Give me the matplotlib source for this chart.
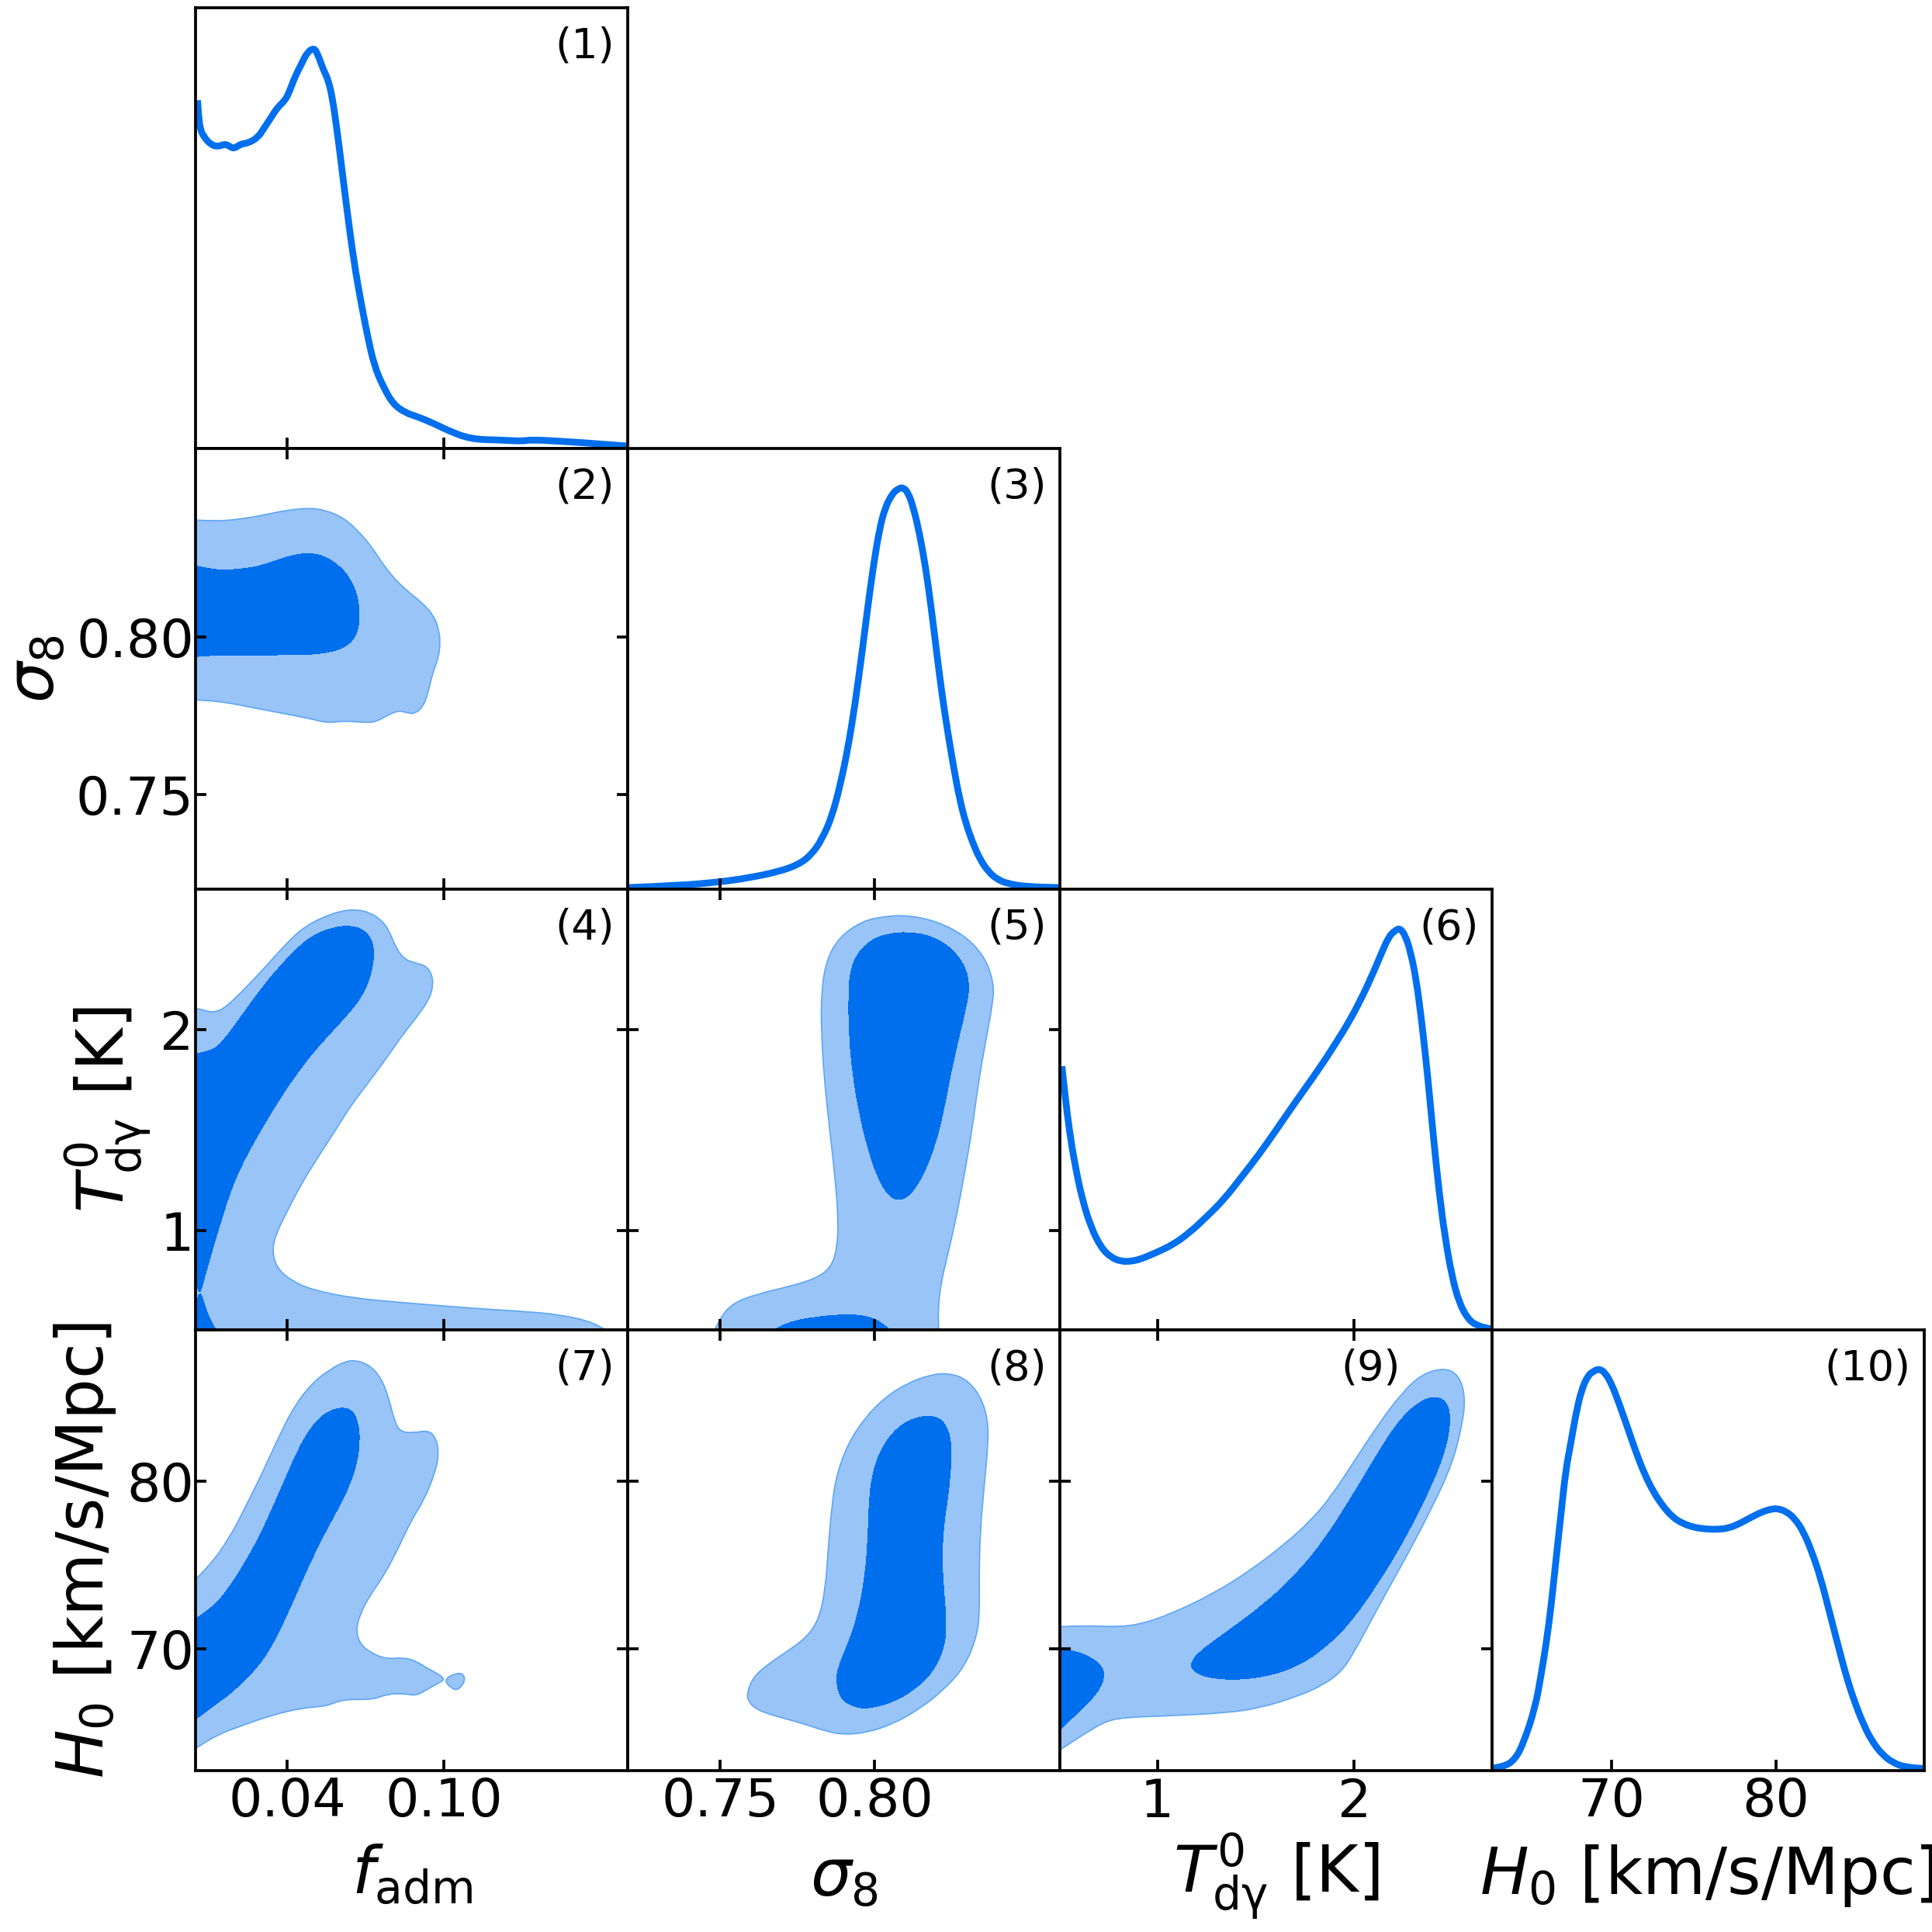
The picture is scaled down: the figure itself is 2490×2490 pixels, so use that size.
import matplotlib
matplotlib.use("Agg")
import matplotlib.pyplot as plt
from matplotlib.path import Path
from matplotlib.patches import PathPatch

# axis limits and ticks
fadm_lim = [0.00488, 0.1705]
sig_lim = [0.72, 0.86]
tdg_lim = [0.505, 2.70]
h0_lim = [62.7, 89.05]

fadm_ticks = [0.04, 0.10]
sig_ticks = [0.75, 0.80]
tdg_ticks = [1, 2]
h0_ticks = [70, 80]

fadm_ticklabels = ["0.04", "0.10"]
sig_ticklabels = ["0.75", "0.80"]
tdg_ticklabels = ["1", "2"]
h0_ticklabels = ["70", "80"]

fadm_label = r"$f_{\rm adm}$"
sig_label = r"$\sigma_8$"
tdg_label = r"$T_{\rm d\gamma}^0$ [K]"
h0_label = r"$H_0$ [km/s/Mpc]"

# 1D posteriors
p1_x = [.00565, .00609, .00675, .00807, .0106, .01336, .01611, .01776, .01963, .02216, .02492, .02877, .03097,
        .03372, .03626, .03923, .04088, .04286, .0455, .04771, .05024, .05167, .05387, .05574, .0574, .05905,
        .05993, .06268, .06565, .06863, .07083, .07336, .07666, .08074, .08602, .08932, .09703, .10088, .11024,
        .12235, .13006, .13336, .14437, .15208, .17046]
p1_y = [.869, .825, .796, .778, .759, .753, .760, .755, .748, .760, .762, .776, .798,
        .825, .851, .869, .891, .926, .960, .989, 1.0, .985, .945, .920, .873, .796,
        .753, .607, .462, .353, .280, .207, .156, .109, .087, .081, .060, .047, .023,
        .021, .018, .022, .018, .015, .006]

p3_x = [.7201, .7364, .75, .7597, .769, .7755, .7796, .7829, .7862, .7889, .7913, .7936, .7959, .7978, .7996,
        .8015, .8033, .8057, .8075, .8091, .8108, .8126, .8145, .8164, .8182, .8201, .8219, .8238, .8257,
        .8275, .8294, .8317, .834, .8368, .8396, .8433, .8498, .8601]
p3_y = [.004, .009, .018, .029, .044, .062, .087, .124, .182, .262, .350, .459, .590, .706, .808,
        .896, .951, .987, .999, 1.003, .991, .951, .889, .808, .710, .590, .481, .386, .299,
        .226, .168, .117, .076, .044, .025, .013, .006, .004]

p6_x = [.5153, .5313, .5531, .5822, .6186, .6623, .7132, .7642, .8151, .8661, .917, .9898, 1.0771, 1.1645,
        1.2518, 1.3392, 1.4265, 1.5138, 1.6012, 1.703, 1.8195, 1.9068, 1.9796, 2.0451, 2.096, 2.1397, 2.1761,
        2.2052, 2.2314, 2.2591, 2.2853, 2.3144, 2.3435, 2.3726, 2.4017, 2.4309, 2.46, 2.4964, 2.5328, 2.5764,
        2.62, 2.6958]
p6_y = [.658, .585, .497, .410, .326, .257, .206, .181, .171, .171, .177, .192, .212, .243,
        .283, .326, .381, .436, .497, .570, .650, .716, .774, .836, .891, .942, .982,
        .996, 1.003, .985, .945, .876, .767, .636, .483, .345, .235, .133, .068, .028,
        .011, .002]

p10_x = [62.64, 63.41, 64.11, 64.64, 65.34, 65.69, 66.01, 66.31, 66.61, 66.92, 67.19, 67.49, 67.80, 68.15, 68.54,
         68.89, 69.24, 69.60, 70.00, 70.44, 70.97, 71.49, 72.02, 72.55, 73.08, 73.69, 74.31, 75.01, 75.71, 76.41,
         77.12, 77.82, 78.52, 79.23, 79.75, 80.11, 80.63, 81.16, 81.69, 82.21, 82.74, 83.27, 83.80, 84.32, 84.85,
         85.38, 85.90, 86.52, 87.14, 87.84, 89.07]
p10_y = [.006, .009, .028, .071, .159, .239, .319, .414, .531, .647, .749, .815, .888, .950, .986,
         .997, 1.003, .993, .964, .917, .855, .793, .738, .695, .662, .633, .617, .607, .603, .602,
         .605, .617, .633, .647, .653, .654, .647, .629, .596, .545, .480, .396, .312, .232, .166,
         .112, .071, .039, .020, .009, .005]

# panel 2: sigma8 vs f_adm
p2_out_x = [.00488, .01226, .02106, .02987, .03868, .04859, .05519, .06125, .0662, .07171, .07611, .08052, .08602,
            .09153, .09593, .09813, .09868, .09791, .09571, .09395, .09208, .08877, .08547, .08272, .07831, .07446,
            .07061, .0618, .05574, .05079, .03978, .02877, .01556, .00565, .00488]
p2_out_y = [.83727, .8369, .83745, .83866, .84024, .84117, .84024, .8381, .83467, .82955, .82398, .81914, .81468,
            .81115, .80725, .8026, .79796, .79331, .78866, .78216, .77797, .77565, .77612, .77677, .77519, .77333,
            .77286, .77351, .77277, .77379, .77565, .77732, .77955, .78011, .78011]
p2_in_x = [.00488, .01005, .01666, .02327, .02987, .03648, .04308, .04859, .05409, .0596, .064, .06675, .06774,
           .0673, .0651, .0607, .05409, .04749, .03868, .02877, .01556, .01005, .00488]
p2_in_y = [.82277, .82165, .82138, .82175, .82268, .82463, .8263, .82677, .82584, .82305, .81887, .81375, .80818,
           .8026, .79888, .79628, .79498, .79452, .79452, .79424, .79424, .79424, .79387]

# panel 4: Tdg vs f_adm
p4_out_x = [.00488, .00785, .01115, .015, .01996, .02767, .03427, .04198, .04749, .05409, .0607, .0662, .07171,
            .07666, .07941, .08217, .08547, .08932, .09318, .09538, .09593, .09483, .09042, .08492, .07831, .07171,
            .064, .0585, .05189, .04528, .03978, .03538, .03427, .03648, .04198, .04969, .0651, .08382, .11134,
            .13336, .14437, .15538, .16254]
p4_out_y = [2.1064, 2.0991, 2.086, 2.0991, 2.1545, 2.2566, 2.3513, 2.4606, 2.519, 2.5627, 2.5918, 2.5991, 2.5845,
            2.5408, 2.4825, 2.395, 2.3469, 2.3324, 2.3178, 2.2784, 2.2274, 2.1618, 2.0743, 1.9869, 1.863, 1.7464,
            1.6152, 1.4985, 1.3673, 1.2289, 1.0904, .9738, .8863, .8061, .7478, .7041, .6633, .6414, .6122,
            .5948, .5802, .551, .503]
p4_in_x = [.00488, .01115, .01556, .02327, .03097, .03868, .04528, .05079, .05739, .064, .0695, .07281, .07336,
           .07171, .0684, .064, .05629, .04969, .04418, .03868, .03207, .02657, .02161, .01776, .01391, .0106,
           .0084, .0064, .0052, .00488]
p4_in_y = [1.8805, 1.8921, 1.9431, 2.0816, 2.2201, 2.3367, 2.4242, 2.4752, 2.5087, 2.519, 2.4971, 2.4388, 2.3586,
           2.2566, 2.1618, 2.0889, 1.9796, 1.8848, 1.7901, 1.688, 1.5496, 1.4257, 1.3017, 1.1778, 1.0175, .8717,
           .7697, .675, .745, .76]
p4_low_x = [.00488, .0064, .0084, .0106, .0128]
p4_low_y = [.6239, .715, .6239, .551, .503]

# panel 5: Tdg vs sigma8
p5_out_x = [.74814, .74991, .75409, .76152, .77361, .7810, .78569, .78773, .78829, .78708, .78522, .78364, .78271,
            .78271, .78429, .78848, .79591, .80335, .81078, .82007, .82937, .83587, .83866, .8382, .83587, .83355,
            .83169, .8289, .82658, .82379, .82147, .82054, .82072]
p5_out_y = [.503, .5656, .6385, .6822, .726, .7624, .8134, .9009, 1.0466, 1.2799, 1.5277, 1.7609, 1.9942,
            2.1837, 2.344, 2.4606, 2.5408, 2.5656, 2.57, 2.5408, 2.4679, 2.3586, 2.2274, 2.1254, 1.9359, 1.7318,
            1.5131, 1.2653, 1.0758, .8863, .7405, .6093, .503]
p5_in_x = [.80753, .80381, .80056, .79777, .79498, .79294, .79173, .79154, .79219, .79452, .7987, .80428, .81078,
           .81822, .82472, .82937, .83067, .82983, .82751, .82472, .8224, .81961, .81589, .81171]
p5_in_y = [1.1458, 1.1851, 1.2799, 1.4111, 1.586, 1.7755, 1.965, 2.1837, 2.3003, 2.3805, 2.4461, 2.4781, 2.4869,
           2.4679, 2.4096, 2.3149, 2.2201, 2.1254, 1.9796, 1.7901, 1.6006, 1.4257, 1.2799, 1.1778]
p5_low_x = [.7671, .77175, .7810, .79126, .79777, .80195, .80502]
p5_low_y = [.503, .5437, .57, .5831, .5729, .5437, .503]

# panel 7: H0 vs f_adm
p7_out_x = [.00488, .01005, .01776, .02437, .03097, .03758, .04308, .04969, .05629, .0618, .0662, .07171, .07611,
            .07886, .08107, .08327, .08822, .09428, .09703, .09813, .09703, .09263, .08767, .08272, .07721, .07171,
            .06785, .06642, .06785, .07171, .07776, .08492, .08932, .09373, .09813, .1005, .09703, .09318, .08932,
            .08492, .07831, .07281, .06125, .05519, .04639, .03427, .02327, .01336, .00488]
p7_out_y = [74.129, 74.913, 76.568, 78.571, 80.662, 82.927, 84.582, 85.889, 86.672, 87.143, 87.247, 86.934, 86.15,
            85.017, 83.624, 82.962, 82.892, 83.049, 82.578, 81.707, 80.662, 78.92, 77.7, 76.045, 74.39, 73.171,
            72.038, 71.08, 70.296, 69.774, 69.373, 69.46, 69.251, 68.815, 68.467, 68.14, 67.857, 67.509, 67.178,
            67.3, 67.282, 66.934, 66.969, 66.551, 66.463, 66.028, 65.418, 64.861, 64.024]
p7_blob_x = [.1, .1045, .1075, .1082, .1055, .1028]
p7_blob_y = [68.14, 68.52, 68.5, 68.05, 67.5, 67.62]
p7_in_x = [.00488, .01115, .01776, .02437, .02987, .03538, .03978, .04418, .04859, .05409, .0607, .0651, .0673,
           .06785, .06675, .064, .0596, .05409, .04859, .04418, .03868, .03427, .02877, .01996, .01226, .00488]
p7_in_y = [71.777, 72.387, 73.606, 75.261, 76.829, 78.746, 80.314, 81.882, 83.101, 84.059, 84.443, 84.233, 83.449,
           82.404, 81.098, 79.791, 78.397, 76.829, 75.087, 73.519, 71.603, 70.209, 68.902, 67.509, 66.638, 65.767]

# panel 8: H0 vs sigma8
p8_out_x = [.75855, .76059, .76617, .77268, .77825, .78197, .78401, .78494, .78615, .78755, .79126, .79684, .80335,
            .81078, .81822, .82379, .82937, .83401, .83662, .8368, .83541, .8342, .83383, .83401, .83309, .82937,
            .82286, .8145, .80613, .79777, .79, .78383, .77546, .7671, .76152, .7592]
p8_out_y = [67.282, 68.293, 69.164, 69.948, 70.732, 71.777, 73.519, 75.958, 78.571, 80.314, 82.23, 83.798, 85.017,
            85.889, 86.376, 86.463, 86.15, 85.192, 83.798, 82.23, 79.617, 77.003, 74.39, 72.125, 70.732, 68.99,
            67.596, 66.376, 65.505, 64.983, 64.843, 65.07, 65.592, 65.993, 66.376, 66.812]
p8_in_x = [.78755, .78801, .79126, .79452, .79684, .79777, .79823, .79916, .80149, .80613, .81171, .81729, .82193,
           .82454, .82491, .82379, .8224, .82175, .8224, .82333, .8224, .81868, .81264, .80613, .7987, .79405, .78941]
p8_in_y = [67.857, 68.815, 70.209, 71.951, 74.216, 76.307, 78.92, 80.314, 81.707, 83.014, 83.711, 83.937, 83.711,
           82.753, 81.359, 79.094, 77.526, 75.436, 73.345, 71.429, 69.948, 68.554, 67.509, 66.812, 66.429, 66.463,
           66.899]

# panel 9: H0 vs Tdg
p9_out_x = [.5051, .6259, .8006, .917, 1.0626, 1.2809, 1.4702, 1.6448, 1.7758, 1.8777, 2.0087, 2.1252, 2.2416,
            2.3435, 2.46, 2.5328, 2.5648, 2.5473, 2.4964, 2.4017, 2.2707, 2.1543, 2.067, 1.9942, 1.936, 1.8486,
            1.7176, 1.5284, 1.3537, 1.0626, .8442, .7424, .6405, .5051]
p9_out_y = [71.307, 71.376, 71.289, 71.463, 72.038, 73.258, 74.652, 76.22, 77.613, 79.007, 81.359, 83.449, 85.279,
            86.411, 86.794, 86.324, 85.017, 83.275, 81.01, 78.571, 75.61, 73.171, 71.254, 69.686, 68.641, 67.857,
            67.16, 66.463, 66.15, 65.976, 65.889, 65.679, 64.983, 63.937]
p9_in_x = [1.1645, 1.2082, 1.3537, 1.5429, 1.7031, 1.8486, 1.9942, 2.1252, 2.2271, 2.329, 2.4163, 2.4745, 2.4891,
           2.4672, 2.4017, 2.2707, 2.1106, 1.9651, 1.8486, 1.7322, 1.5866, 1.4119, 1.2664, 1.1936]
p9_in_y = [69.024, 69.774, 70.993, 72.648, 74.39, 76.481, 79.181, 81.794, 83.624, 84.756, 85.105, 84.669, 83.624,
           82.056, 79.965, 76.829, 73.693, 71.341, 70.035, 69.077, 68.415, 68.118, 68.24, 68.554]
p9_left_x = [.5051, .5822, .6696, .7205, .7307, .7132, .655, .5677, .5051]
p9_left_y = [70.0, 69.861, 69.425, 68.902, 68.38, 67.683, 66.812, 65.854, 65.157]

panel_names = ["(1)", "(2)", "(3)", "(4)", "(5)", "(6)", "(7)", "(8)", "(9)", "(10)"]

DARK = "#006FED"
LIGHT = "#99C4F8"
EDGE = "#5EA6F4"


def open_chain(x, y):
    # quadratic segments through midpoints, then straight to the last point
    pts = list(zip(x, y))
    verts, codes = [pts[0]], [Path.MOVETO]
    chain = pts[1:-1]
    for i, p in enumerate(chain):
        q = chain[i + 1] if i + 1 < len(chain) else pts[-1]
        verts += [p, ((p[0] + q[0]) / 2, (p[1] + q[1]) / 2)]
        codes += [Path.CURVE3, Path.CURVE3]
    verts.append(pts[-1])
    codes.append(Path.LINETO)
    return verts, codes


def curve(ax, x, y):
    verts, codes = open_chain(x, y)
    ax.add_patch(PathPatch(Path(verts, codes), fill=False, edgecolor=DARK, lw=2.1, capstyle="butt"))


def contour(ax, x, y, color, edge=None, closed=True):
    pts = list(zip(x, y))
    if closed:
        start = ((pts[-1][0] + pts[0][0]) / 2, (pts[-1][1] + pts[0][1]) / 2)
        verts, codes = [start], [Path.MOVETO]
        for i, p in enumerate(pts):
            q = pts[(i + 1) % len(pts)]
            verts += [p, ((p[0] + q[0]) / 2, (p[1] + q[1]) / 2)]
            codes += [Path.CURVE3, Path.CURVE3]
        verts.append(start)
        codes.append(Path.CLOSEPOLY)
    else:
        # open outlines end on the axes, close them through the lower left corner
        verts, codes = open_chain(x, y)
        verts += [(ax.get_xlim()[0], ax.get_ylim()[0]), pts[0]]
        codes += [Path.LINETO, Path.CLOSEPOLY]
    patch = PathPatch(Path(verts, codes), facecolor=color, edgecolor=edge if edge else "none",
                      lw=0.4 if edge else 0, antialiased=edge is not None)
    ax.add_patch(patch)


plt.rcParams["font.size"] = 16.4
plt.rcParams["axes.linewidth"] = 0.9

fig = plt.figure(figsize=(8.3, 8.3), dpi=300)
gs = fig.add_gridspec(4, 4, left=252 / 2490, right=2480 / 2490, top=1 - 10 / 2490, bottom=1 - 2282 / 2490,
                      wspace=0, hspace=0)

lims = [fadm_lim, sig_lim, tdg_lim, h0_lim]
ticks = [fadm_ticks, sig_ticks, tdg_ticks, h0_ticks]
ticklabels = [fadm_ticklabels, sig_ticklabels, tdg_ticklabels, h0_ticklabels]
labels = [fadm_label, sig_label, tdg_label, h0_label]
xlabel_pads = [4.7, 6, 1, 4.7]
ylabel_pads = [3, 2.5, 2.3, 2.7]

axes = {}
n = 0
for r in range(4):
    for c in range(r + 1):
        ax = fig.add_subplot(gs[r, c])
        axes[(r, c)] = ax
        ax.set_xlim(lims[c])
        ax.set_xticks(ticks[c])
        ax.set_xticklabels(ticklabels[c] if r == 3 else [])
        if r == c:
            ax.set_ylim(0, 1.1)
            ax.set_yticks([])
            ax.tick_params(axis="x", direction="in", length=3.4, width=0.9, top=False, bottom=True, pad=1.8)
        else:
            ax.set_ylim(lims[r])
            ax.set_yticks(ticks[r])
            ax.set_yticklabels(ticklabels[r] if c == 0 else [])
            ax.tick_params(axis="x", direction="in", length=3.4, width=0.9, top=True, bottom=True, pad=1.8)
            ax.tick_params(axis="y", direction="in", length=3.4, width=0.9, left=True, right=True, pad=0.5)
        if r == 3:
            ax.set_xlabel(labels[c], fontsize=20, labelpad=xlabel_pads[c])
        if c == 0 and r > 0:
            ax.set_ylabel(labels[r], fontsize=20, labelpad=ylabel_pads[r])
        tx = 0.788 if n == 8 else 0.969
        ax.text(tx, 0.913, panel_names[n], transform=ax.transAxes, ha="right", va="center", fontsize=13)
        n += 1

curve(axes[(0, 0)], p1_x, p1_y)
curve(axes[(1, 1)], p3_x, p3_y)
curve(axes[(2, 2)], p6_x, p6_y)
curve(axes[(3, 3)], p10_x, p10_y)

contour(axes[(1, 0)], p2_out_x, p2_out_y, LIGHT, EDGE, closed=False)
contour(axes[(1, 0)], p2_in_x, p2_in_y, DARK, closed=False)

contour(axes[(2, 0)], p4_out_x, p4_out_y, LIGHT, EDGE, closed=False)
contour(axes[(2, 0)], p4_in_x, p4_in_y, DARK, closed=False)
contour(axes[(2, 0)], p4_low_x, p4_low_y, DARK, closed=False)

contour(axes[(2, 1)], p5_out_x, p5_out_y, LIGHT, EDGE, closed=False)
contour(axes[(2, 1)], p5_in_x, p5_in_y, DARK)
contour(axes[(2, 1)], p5_low_x, p5_low_y, DARK, closed=False)

contour(axes[(3, 0)], p7_out_x, p7_out_y, LIGHT, EDGE, closed=False)
contour(axes[(3, 0)], p7_blob_x, p7_blob_y, LIGHT, EDGE)
contour(axes[(3, 0)], p7_in_x, p7_in_y, DARK, closed=False)

contour(axes[(3, 1)], p8_out_x, p8_out_y, LIGHT, EDGE)
contour(axes[(3, 1)], p8_in_x, p8_in_y, DARK)

contour(axes[(3, 2)], p9_out_x, p9_out_y, LIGHT, EDGE, closed=False)
contour(axes[(3, 2)], p9_in_x, p9_in_y, DARK)
contour(axes[(3, 2)], p9_left_x, p9_left_y, DARK, closed=False)

fig.savefig("out.png", dpi=300)
